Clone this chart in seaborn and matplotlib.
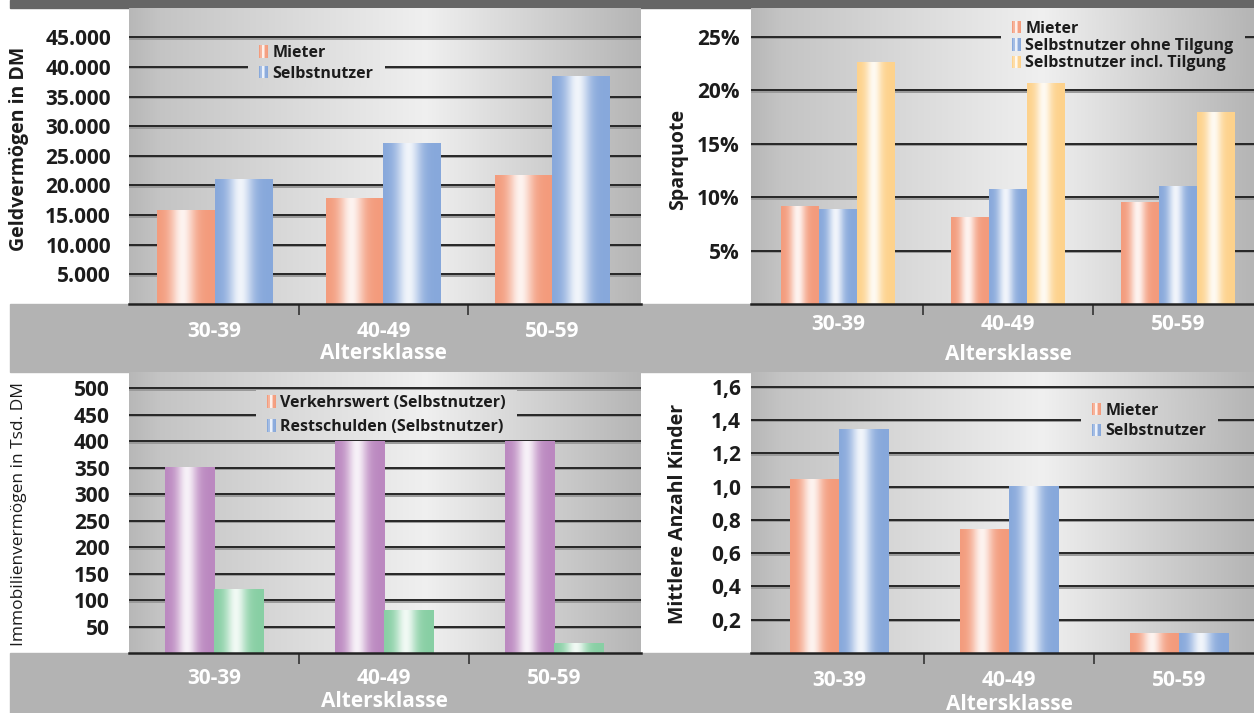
import numpy as np
import pandas as pd
import matplotlib
matplotlib.use("Agg")
import matplotlib.pyplot as plt
import seaborn as sns
import matplotlib.patheffects as pe
from matplotlib.patches import Rectangle, Patch
from matplotlib.legend_handler import HandlerBase

# ---------------------------------------------------------------- data
age_classes = ["30-39", "40-49", "50-59"]

geld_mieter = [15700, 17800, 21700]
geld_selbst = [21000, 27100, 38400]
geld_ticks = [5000, 10000, 15000, 20000, 25000, 30000, 35000, 40000, 45000]
geld_ticklabels = ["5.000", "10.000", "15.000", "20.000", "25.000",
                   "30.000", "35.000", "40.000", "45.000"]

spar_mieter = [9.1, 8.1, 9.5]
spar_ohne = [8.8, 10.7, 11.0]
spar_incl = [22.6, 20.6, 17.9]
spar_ticks = [5, 10, 15, 20, 25]
spar_ticklabels = ["5%", "10%", "15%", "20%", "25%"]

immo_verkehrswert = [350, 400, 400]
immo_restschulden = [120, 80, 18]
immo_ticks = [50, 100, 150, 200, 250, 300, 350, 400, 450, 500]
immo_ticklabels = ["50", "100", "150", "200", "250", "300", "350", "400", "450", "500"]

kinder_mieter = [1.04, 0.74, 0.12]
kinder_selbst = [1.34, 1.00, 0.115]
kinder_ticks = [0.2, 0.4, 0.6, 0.8, 1.0, 1.2, 1.4, 1.6]
kinder_ticklabels = ["0,2", "0,4", "0,6", "0,8", "1,0", "1,2", "1,4", "1,6"]

# ---------------------------------------------------------------- style
sns.set_theme(style="white")
plt.rcParams["font.family"] = ["Open Sans", "DejaVu Sans"]
plt.rcParams["font.weight"] = "bold"
plt.rcParams["axes.labelweight"] = "bold"

W, H = 1254, 713
SALMON = "#f39b7c"
BLUE = "#87a8db"
YELLOW = "#fdd28c"
PURPLE = "#bb88c0"
GREEN = "#88cfa4"
TEXT = "#1c1c1c"

fig = plt.figure(figsize=(W / 100, H / 100), dpi=100)
fig.patch.set_facecolor("white")

# frame bands of the page layout
fig.add_artist(Rectangle((10 / W, 1 - 8 / H), 1244 / W, 8 / H,
                         transform=fig.transFigure, color="#666666", zorder=-2))
fig.add_artist(Rectangle((10 / W, 1 - 372 / H), 1244 / W, 68 / H,
                         transform=fig.transFigure, color="#b3b3b3", zorder=-2))
fig.add_artist(Rectangle((10 / W, 0), 1244 / W, 60 / H,
                         transform=fig.transFigure, color="#b3b3b3", zorder=-2))

BG_STOPS = ([0.0, 0.06, 0.58, 1.0], [0.72, 0.77, 0.94, 0.71])


def background_image(n=256):
    levels = np.interp(np.linspace(0, 1, n), *BG_STOPS)
    return np.repeat(levels[None, :, None], 3, axis=2)


def bar_profile(n):
    t = np.linspace(0, 1, n)
    return np.exp(-((t - 0.44) / 0.21) ** 2)


def gradient_row(color, n=64):
    c = np.array(matplotlib.colors.to_rgb(color))
    light = c + (1 - c) * 0.88
    w = bar_profile(n)[:, None]
    return (c * (1 - w) + light * w)[None, :, :]


class StripeHandler(HandlerBase):
    """Legend swatch drawn as a small shaded stripe block."""

    def create_artists(self, legend, orig_handle, xdescent, ydescent,
                       width, height, fontsize, trans):
        row = gradient_row(orig_handle.get_facecolor(), n=6)[0]
        n = len(row)
        arts = []
        for i, col in enumerate(row):
            r = Rectangle((-xdescent + i * width / n, -ydescent), width / n + 0.05,
                          height, facecolor=col, edgecolor="none", transform=trans)
            arts.append(r)
        return arts


legends = []


def panel(px_left, px_top, px_right, px_bottom, series, colors, group_width,
          xlim, ylim, ticks, ticklabels, ylabel, ylabel_pos, ylabel_kw,
          ytick_pad, xtick_pad, xlabel_y, legend_labels, legend_colors,
          legend_anchor, legend_spacing):
    rect = [px_left / W, 1 - px_bottom / H, (px_right - px_left) / W,
            (px_bottom - px_top) / H]
    ax = fig.add_axes(rect)
    names = list(series.keys())
    df = pd.DataFrame({
        "Altersklasse": np.tile(age_classes, len(names)),
        "Serie": np.repeat(names, len(age_classes)),
        "Wert": np.concatenate([series[k] for k in names]),
    })
    sns.barplot(data=df, x="Altersklasse", y="Wert", hue="Serie",
                palette=colors, width=group_width, saturation=1,
                errorbar=None, legend=False, ax=ax)

    # shaded bar fills
    for p in ax.patches:
        x, y0 = p.get_x(), p.get_y()
        w, h = p.get_width(), p.get_height()
        ax.imshow(gradient_row(p.get_facecolor()), extent=[x, x + w, y0, y0 + h],
                  aspect="auto", interpolation="bilinear", zorder=2)
        p.set_facecolor("none")
        p.set_edgecolor("none")

    # panel background
    ax.imshow(background_image(), extent=[0, 1, 0, 1], transform=ax.transAxes,
              aspect="auto", interpolation="bilinear", zorder=-5)

    # grid lines with a soft shadow
    for v in ticks:
        ax.axhline(v, color="#262626", lw=1.4, zorder=1,
                   path_effects=[pe.SimpleLineShadow(offset=(0, -1.1),
                                                     shadow_color="#999999", alpha=1),
                                 pe.Normal()])

    ax.set_xlim(*xlim)
    ax.set_ylim(*ylim)
    for s in ["left", "right", "top"]:
        ax.spines[s].set_visible(False)
    ax.spines["bottom"].set_color("#222222")
    ax.spines["bottom"].set_linewidth(1.8)
    ax.spines["bottom"].set_zorder(3)

    ax.set_yticks(ticks, ticklabels)
    ax.tick_params(axis="y", length=0, pad=ytick_pad, labelsize=15,
                   labelcolor=TEXT)
    ax.set_xticks([0, 1, 2], age_classes)
    ax.set_xticks([0.5, 1.5], minor=True)
    ax.tick_params(axis="x", which="major", length=0, pad=xtick_pad,
                   labelsize=15, labelcolor="white")
    ax.tick_params(axis="x", which="minor", length=8, width=1.2,
                   color="#333333", direction="out", bottom=True)

    ax.set_xlabel("Altersklasse", fontsize=15, fontweight="bold",
                  color="white", va="center")
    ax.xaxis.set_label_coords((1 - xlim[0]) / (xlim[1] - xlim[0]), xlabel_y)
    kw = dict(fontweight="bold")
    kw.update(ylabel_kw)
    ax.set_ylabel(ylabel, color=TEXT, ha="center", va="center",
                  rotation=90, rotation_mode="anchor", **kw)
    ax.yaxis.set_label_coords(*ylabel_pos)

    handles = [Patch(facecolor=c) for c in legend_colors]
    lx, ly = legend_anchor
    leg = ax.legend(handles, legend_labels, handler_map={Patch: StripeHandler()},
                    loc="center left", bbox_to_anchor=(lx / W, 1 - ly / H),
                    bbox_transform=fig.transFigure, frameon=True,
                    facecolor="none", edgecolor="none",
                    fancybox=False, borderpad=0.3, labelspacing=legend_spacing,
                    handlelength=0.6, handleheight=0.8, handletextpad=0.25,
                    prop=dict(size=11.5, weight="bold"))
    leg.set_zorder(6)
    for t in leg.get_texts():
        t.set_color(TEXT)
    legends.append((ax, leg))
    return ax


# Geldvermögen
panel(129, 8, 641, 304,
      {"Mieter": geld_mieter, "Selbstnutzer": geld_selbst},
      [SALMON, BLUE], 0.675, (-0.506, 2.524), (0, 49930),
      geld_ticks, geld_ticklabels, "Geldvermögen in DM", (-0.215, 0.524),
      dict(fontsize=14), 13, 12, -0.166,
      ["Mieter", "Selbstnutzer"], [SALMON, BLUE], (246, 63.5), 0.3)

# Sparquote
panel(751, 8, 1254, 304,
      {"Mieter": spar_mieter, "Selbstnutzer ohne Tilgung": spar_ohne,
       "Selbstnutzer incl. Tilgung": spar_incl},
      [SALMON, BLUE, YELLOW], 0.67, (-0.512, 2.447), (0, 27.7),
      spar_ticks, spar_ticklabels, "Sparquote", (-0.145, 0.49),
      dict(fontsize=14), 8, 7, -0.172,
      ["Mieter", "Selbstnutzer ohne Tilgung", "Selbstnutzer incl. Tilgung"],
      [SALMON, BLUE, YELLOW], (999, 46), 0.08)

# Immobilienvermögen
panel(129, 372, 641, 653,
      {"Verkehrswert (Selbstnutzer)": immo_verkehrswert,
       "Restschulden (Selbstnutzer)": immo_restschulden},
      [PURPLE, GREEN], 0.58, (-0.5, 2.51), (0, 531),
      immo_ticks, immo_ticklabels, "Immobilienvermögen in Tsd. DM", (-0.215, 0.495),
      dict(fontsize=12.5, fontweight="normal"), 14, 11, -0.174,
      ["Verkehrswert (Selbstnutzer)", "Restschulden (Selbstnutzer)"],
      [SALMON, BLUE], (254, 415), 0.5)

# Kinderzahl
panel(751, 372, 1254, 653,
      {"Mieter": kinder_mieter, "Selbstnutzer": kinder_selbst},
      [SALMON, BLUE], 0.58, (-0.518, 2.44), (0, 1.688),
      kinder_ticks, kinder_ticklabels, "Mittlere Anzahl Kinder", (-0.145, 0.495),
      dict(fontsize=14), 7, 12, -0.185,
      ["Mieter", "Selbstnutzer"], [SALMON, BLUE], (1079, 421), 0.3)

# Behind each legend, repeat the panel background so grid lines stop there.
fig.canvas.draw()
for ax, leg in legends:
    bb = leg.get_frame().get_window_extent().transformed(ax.transAxes.inverted())
    padx = 6 / (ax.get_window_extent().width)
    clip = Rectangle((bb.x0 - padx, bb.y0), bb.width + 2 * padx, bb.height,
                     transform=ax.transAxes, facecolor="none", edgecolor="none")
    ax.add_patch(clip)
    im = ax.imshow(background_image(), extent=[0, 1, 0, 1], transform=ax.transAxes,
                   aspect="auto", interpolation="bilinear", zorder=1.5)
    im.set_clip_path(clip)

fig.savefig("out.png", dpi=100)
